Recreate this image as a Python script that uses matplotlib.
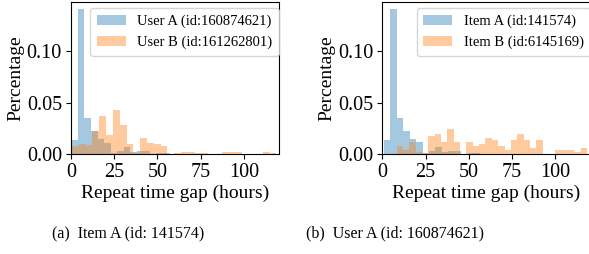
import numpy as np
import matplotlib
matplotlib.use("Agg")
import matplotlib.pyplot as plt

plt.rcParams['font.family'] = ['Liberation Serif', 'DejaVu Serif']

# ---- data (percentage per bin) ----
# Left panel: Item A (id: 141574) -> users
left_labels = ["User A (id:160874621)", "User B (id:161262801)"]
left_a_start, left_a_width = 0.17, 3.79
left_a_vals = [0.0139, 0.1408, 0.0352, 0.0226, 0.0145, 0.0110, 0.0010, 0.0035,
               0.0071, 0.0022, 0.0035, 0.0035, 0.0, 0.0010, 0.0010]
left_b_start, left_b_width = 0.58, 3.94
left_b_vals = [0.0080, 0.0097, 0.0090, 0.0226, 0.0370, 0.0184, 0.0430, 0.0284,
               0.0100, 0.0015, 0.0158, 0.0113, 0.0100, 0.0080, 0.0, 0.0015,
               0.0025, 0.0025, 0.0013, 0.0013, 0.0, 0.0, 0.0023, 0.0023,
               0.0023, 0.0, 0.0, 0.0, 0.0023, 0.0010]

# Right panel: User A (id: 160874621) -> items
right_labels = ["Item A (id:141574)", "Item B (id:6145169)"]
right_a_start, right_a_width = 0.98, 3.72
right_a_vals = [0.0139, 0.1408, 0.0351, 0.0226, 0.0148, 0.0119, 0.0013, 0.0032,
                0.0070, 0.0020, 0.0032, 0.0032, 0.0, 0.0010, 0.0010]
right_b_start, right_b_width = 8.3, 3.67
right_b_vals = [0.0080, 0.0042, 0.0119, 0.0021, 0.0010, 0.0177, 0.0197, 0.0119,
                0.0245, 0.0119, 0.0, 0.0119, 0.0080, 0.0099, 0.0158, 0.0139,
                0.0080, 0.0042, 0.0139, 0.0197, 0.0139, 0.0060, 0.0139, 0.0,
                0.0, 0.0042, 0.0042, 0.0042, 0.0020, 0.0060]

captions = ["(a)  Item A (id: 141574)", "(b)  User A (id: 160874621)"]
x_ticks = [0, 25, 50, 75, 100]
y_ticks = [0.00, 0.05, 0.10]
x_label = "Repeat time gap (hours)"
y_label = "Percentage"


def edges(start, width, vals):
    return start + width * np.arange(len(vals) + 1)


W, H = 589, 254
fig = plt.figure(figsize=(W / 100, H / 100), dpi=100)

panels = [
    (71, left_labels, (left_a_start, left_a_width, left_a_vals),
     (left_b_start, left_b_width, left_b_vals), 0.092),
    (382.3, right_labels, (right_a_start, right_a_width, right_a_vals),
     (right_b_start, right_b_width, right_b_vals), 0.165),
]

ax_w = 207.5 / W
ax_b = 1 - 154.3 / H
ax_h = (154.3 - 1.5) / H

for x0, labels, sa, sb, leg_x in panels:
    ax = fig.add_axes([x0 / W, ax_b, ax_w, ax_h])
    for (st, wd, vals), lab, col in zip([sa, sb], labels, ['tab:blue', 'tab:orange']):
        e = edges(st, wd, vals)
        ax.hist(e[:-1], bins=e, weights=vals, alpha=0.4, color=col, label=lab)
    ax.set_xlim(0, 120)
    ax.set_xticks(x_ticks)
    ax.set_yticks(y_ticks)
    ax.set_yticklabels([f"{v:.2f}" for v in y_ticks])
    ax.tick_params(labelsize=14.5, length=3.5, width=0.8, pad=3)
    ax.set_xlabel(x_label, fontsize=14, labelpad=2)
    ax.set_ylabel(y_label, fontsize=14, labelpad=2)
    ax.legend(loc='upper left', bbox_to_anchor=(leg_x, 0.955), borderaxespad=0,
              fontsize=10.5, borderpad=0.45)

fig.text(128.5 / W, 1 - 233 / H, captions[0], ha='center', va='center', fontsize=11.5)
fig.text(395 / W, 1 - 233 / H, captions[1], ha='center', va='center', fontsize=11.5)

fig.savefig("out.png", dpi=100)
